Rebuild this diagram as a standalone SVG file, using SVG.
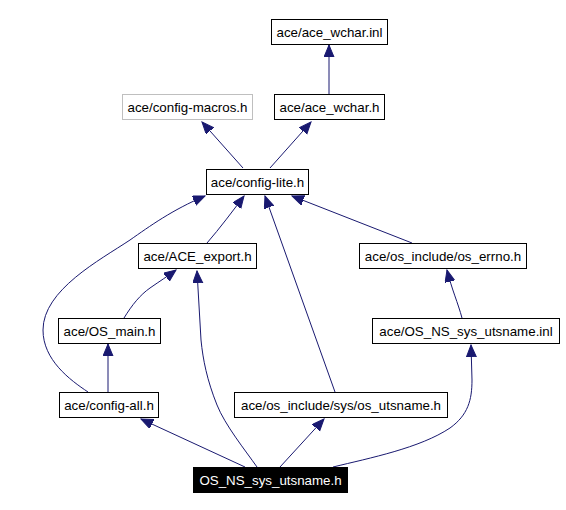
<svg xmlns="http://www.w3.org/2000/svg" width="566" height="510" viewBox="0 0 566 510">
<defs>
<marker id="ah" markerUnits="userSpaceOnUse" markerWidth="13" markerHeight="11" refX="12" refY="5" orient="auto">
<path d="M0,0 L12,5 L0,10 z" fill="#191970" stroke="#191970" stroke-width="1"/>
</marker>
</defs>
<style>
.box{fill:#ffffff;stroke:#000000;stroke-width:1}
.grey{stroke:#bfbfbf}
.root{fill:#000000;stroke:#000000}
text{font-family:"Liberation Sans",Arial,sans-serif;font-size:13.33px;text-anchor:middle;fill:#000000}
.wt{fill:#ffffff}
.e{fill:none;stroke:#191970;stroke-width:1;marker-end:url(#ah)}
</style>
<rect width="566" height="510" fill="#ffffff"/>
<g id="edges">
<path class="e" d="M329,94 L329,45"/>
<path class="e" d="M243,168 L202,122"/>
<path class="e" d="M270,168 L311,122"/>
<path class="e" d="M207,243 C220,228 232,212 244,196"/>
<path class="e" d="M88,392 C70,380 43,360 43,330 C43,290 100,260 130,240 C150,226 172,210 205,196"/>
<path class="e" d="M335,392 L265,196"/>
<path class="e" d="M412,243 L292,196"/>
<path class="e" d="M124,318 C132,305 140,295 150,288 C160,281 168,276 176,270"/>
<path class="e" d="M108,392 L108,344"/>
<path class="e" d="M245,467 L141,419"/>
<path class="e" d="M257,467 C245,450 225,425 217,405 C207,380 203,360 201,340 L197,271"/>
<path class="e" d="M280,467 L324,419"/>
<path class="e" d="M333,467 C370,458 420,448 450,428 C468,415 472,400 472,380 L471,345"/>
<path class="e" d="M462,318 C458,303 452,290 447,270"/>
</g>
<g id="n_wchar_inl"><rect class="box" x="271.5" y="19.5" width="116" height="25"/><text x="329.5" y="36.5">ace/ace_wchar.inl</text></g>
<g id="n_macros"><rect class="box grey" x="122.5" y="94.5" width="130" height="25"/><text x="187.5" y="111.5">ace/config-macros.h</text></g>
<g id="n_wchar_h"><rect class="box" x="274.5" y="94.5" width="110" height="25"/><text x="329.5" y="111.5">ace/ace_wchar.h</text></g>
<g id="n_lite"><rect class="box" x="206.5" y="169.5" width="102" height="25"/><text x="257.5" y="186.5">ace/config-lite.h</text></g>
<g id="n_export"><rect class="box" x="138.5" y="243.5" width="118" height="25"/><text x="197.5" y="260.5">ace/ACE_export.h</text></g>
<g id="n_errno"><rect class="box" x="359.5" y="243.5" width="167" height="25"/><text x="443" y="260.5">ace/os_include/os_errno.h</text></g>
<g id="n_main"><rect class="box" x="58.5" y="318.5" width="102" height="25"/><text x="109.5" y="335.5">ace/OS_main.h</text></g>
<g id="n_inl"><rect class="box" x="372.5" y="318.5" width="187" height="25"/><text x="466" y="335.5">ace/OS_NS_sys_utsname.inl</text></g>
<g id="n_all"><rect class="box" x="59.5" y="392.5" width="99" height="25"/><text x="109" y="409.5">ace/config-all.h</text></g>
<g id="n_utsname"><rect class="box" x="234.5" y="392.5" width="213" height="25"/><text x="341" y="409.5">ace/os_include/sys/os_utsname.h</text></g>
<g id="n_root"><rect class="box root" x="193.5" y="467.5" width="154" height="25"/><text class="wt" x="270.5" y="484.5">OS_NS_sys_utsname.h</text></g>
</svg>
